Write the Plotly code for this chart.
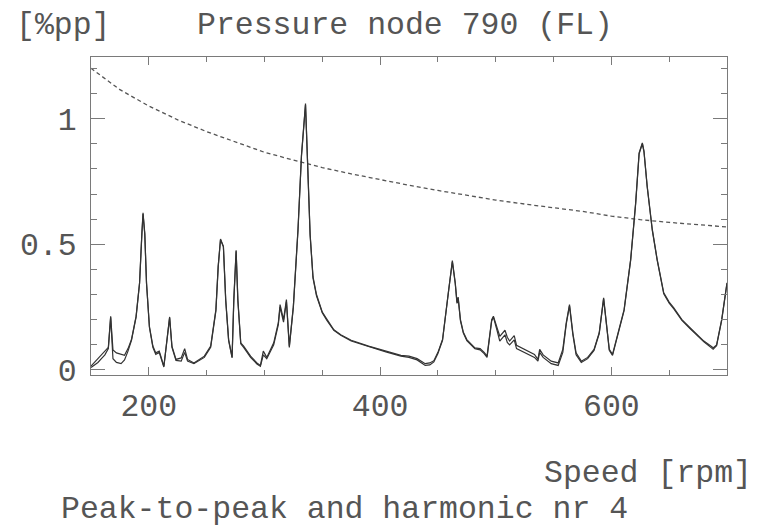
import plotly.graph_objects as go

# ---- data ----
speed = [150, 153, 156, 159, 162, 165, 167, 169, 172, 176, 179, 182, 185, 189, 192, 194, 195, 196.5, 198, 200.5,
         203.5, 206, 209, 213, 216, 218, 220, 223.5, 228, 231, 233.5, 239, 248, 253.5, 258, 260, 262, 264.5, 266.5, 269,
         272, 273.5, 275.5, 277, 279.5, 282, 288, 293.5, 296.5, 299, 302, 308, 312, 313.5, 316.5, 319, 321.5, 325, 329, 332,
         335.5, 337, 339.5, 342, 345, 350, 354, 360, 366, 375, 390, 405, 418, 425, 432, 439, 443, 446.5, 450, 454,
         459.5, 462.5, 465, 466.5, 467.5, 469.5, 472, 475, 482, 486.5, 490, 492.5, 496.5, 498, 501, 503.5, 508, 510, 512, 516,
         518, 525, 533.5, 536.5, 538, 541, 548, 554, 558, 561, 563.8, 566.7, 569.5, 574, 579.5, 585, 589.5, 593.3, 595.3, 598.2,
         601, 605.3, 611, 616.7, 621, 624, 626.8, 628.2, 631, 635.4, 639.6, 645.3, 650, 654, 661, 668, 674, 680, 686, 688,
         691, 695.4, 700]

peak_to_peak = [0.015, 0.03, 0.042, 0.06, 0.075, 0.09, 0.214, 0.08, 0.068, 0.062, 0.058, 0.085, 0.121, 0.214, 0.347, 0.545, 0.625, 0.545, 0.347, 0.174,
                0.095, 0.068, 0.075, 0.015, 0.121, 0.211, 0.095, 0.042, 0.048, 0.085, 0.042, 0.028, 0.055, 0.095, 0.24, 0.413, 0.521, 0.492, 0.28, 0.121,
                0.052, 0.28, 0.476, 0.28, 0.108, 0.095, 0.055, 0.028, 0.018, 0.075, 0.05, 0.108, 0.188, 0.26, 0.2, 0.28, 0.095, 0.254, 0.56, 0.853,
                1.06, 0.853, 0.54, 0.37, 0.3, 0.23, 0.2, 0.16, 0.14, 0.118, 0.095, 0.075, 0.058, 0.055, 0.045, 0.025, 0.028, 0.037, 0.07, 0.121,
                0.33, 0.435, 0.347, 0.27, 0.29, 0.2, 0.15, 0.121, 0.088, 0.085, 0.07, 0.055, 0.2, 0.214, 0.17, 0.134, 0.158, 0.13, 0.115, 0.137,
                0.098, 0.082, 0.062, 0.042, 0.082, 0.06, 0.035, 0.028, 0.082, 0.188, 0.26, 0.147, 0.068, 0.035, 0.05, 0.082, 0.148, 0.287, 0.21, 0.082,
                0.062, 0.134, 0.24, 0.44, 0.665, 0.864, 0.903, 0.871, 0.731, 0.559, 0.44, 0.307, 0.27, 0.247, 0.2, 0.168, 0.14, 0.115, 0.095, 0.088,
                0.1, 0.2, 0.347]

harmonic_4 = [0.01, 0.02, 0.03, 0.045, 0.06, 0.085, 0.21, 0.045, 0.03, 0.025, 0.04, 0.075, 0.118, 0.21, 0.345, 0.54, 0.62, 0.54, 0.345, 0.17,
              0.09, 0.062, 0.07, 0.012, 0.118, 0.208, 0.09, 0.038, 0.035, 0.07, 0.035, 0.025, 0.05, 0.09, 0.235, 0.41, 0.518, 0.49, 0.275, 0.118,
              0.048, 0.275, 0.472, 0.275, 0.104, 0.09, 0.05, 0.024, 0.015, 0.06, 0.045, 0.1, 0.18, 0.25, 0.19, 0.272, 0.09, 0.25, 0.555, 0.85,
              1.055, 0.85, 0.535, 0.365, 0.295, 0.228, 0.197, 0.158, 0.138, 0.115, 0.092, 0.072, 0.055, 0.05, 0.04, 0.018, 0.02, 0.032, 0.065, 0.118,
              0.325, 0.43, 0.343, 0.265, 0.285, 0.195, 0.147, 0.117, 0.085, 0.08, 0.065, 0.05, 0.195, 0.21, 0.16, 0.115, 0.14, 0.11, 0.1, 0.12,
              0.085, 0.07, 0.05, 0.035, 0.07, 0.05, 0.025, 0.018, 0.07, 0.183, 0.255, 0.14, 0.06, 0.03, 0.045, 0.078, 0.145, 0.283, 0.205, 0.078,
              0.058, 0.13, 0.236, 0.437, 0.66, 0.86, 0.9, 0.868, 0.728, 0.555, 0.437, 0.303, 0.266, 0.243, 0.197, 0.165, 0.137, 0.112, 0.09, 0.083,
              0.097, 0.197, 0.345]

limit_speed = [150, 175, 200, 225, 250, 275, 300, 325, 350, 375, 400, 425, 450, 475, 500, 525, 550, 575, 600, 625, 650, 675, 700]
limit_value = [1.2, 1.115, 1.05, 0.995, 0.948, 0.908, 0.866, 0.835, 0.805, 0.78, 0.756, 0.735, 0.714, 0.694, 0.676, 0.66, 0.645, 0.631, 0.612, 0.598, 0.587, 0.578, 0.569]

x_ticks = [200, 400, 600]
y_ticks = [0, 0.5, 1]
y_tick_labels = ["0", "0.5", "1"]

FONT = "Liberation Mono, Courier New, monospace"
TXT = "#555555"
LINE = "#333333"
FRAME = "#7a7a7a"
FS = 31.5

# The page body has an 8px margin, so the figure is 8px smaller than the window.
W, H = 753, 519
L, T, PW, PH = 78, 49, 641, 318

fig = go.Figure()
fig.add_trace(go.Scatter(x=limit_speed, y=limit_value, mode="lines",
                         line=dict(color="#555555", width=1.3, dash="4px,3px"), hoverinfo="skip"))
fig.add_trace(go.Scatter(x=speed, y=harmonic_4, mode="lines",
                         line=dict(color=LINE, width=1.2)))
fig.add_trace(go.Scatter(x=speed, y=peak_to_peak, mode="lines",
                         line=dict(color=LINE, width=1.2)))

fig.update_layout(
    width=W, height=H,
    margin=dict(l=L, r=W - L - PW, t=T, b=H - T - PH),
    paper_bgcolor="white", plot_bgcolor="white",
    showlegend=False,
    font=dict(family=FONT, size=FS, color=TXT),
)
fig.update_xaxes(range=[150, 700], tickvals=x_ticks, ticks="inside", ticklen=8, tickcolor=FRAME,
                 showline=True, linecolor=FRAME, linewidth=1, mirror="ticks",
                 showgrid=False, zeroline=False, ticklabelstandoff=2,
                 tickfont=dict(family=FONT, size=FS, color=TXT),
                 minor=dict(dtick=50, tick0=0, ticks="inside", ticklen=5, tickcolor=FRAME, showgrid=False))
fig.update_yaxes(range=[-0.02, 1.245], tickvals=y_ticks, ticktext=y_tick_labels, ticks="inside", ticklen=14, tickcolor=FRAME,
                 showline=True, linecolor=FRAME, linewidth=1, mirror="ticks",
                 showgrid=False, zeroline=False, ticklabelstandoff=7,
                 tickfont=dict(family=FONT, size=FS, color=TXT),
                 minor=dict(dtick=0.1, tick0=0, ticks="inside", ticklen=6, tickcolor=FRAME, showgrid=False))

def px_x(px):
    return (px - L) / float(PW)

def px_y(py):
    return (T + PH - py) / float(PH)

annots = [
    ("[%pp]", 0, 17, "left"),
    ("Pressure node 790 (FL)", 183, 17, "left"),
    ("Speed [rpm]", 746, 465, "right"),
    ("Peak-to-peak and harmonic nr 4", 46, 501, "left"),
]
for text, x, y, anchor in annots:
    fig.add_annotation(text=text, xref="paper", yref="paper", x=px_x(x), y=px_y(y),
                       xanchor=anchor, yanchor="middle", showarrow=False,
                       font=dict(family=FONT, size=FS, color=TXT))

fig.write_html("out.html")
